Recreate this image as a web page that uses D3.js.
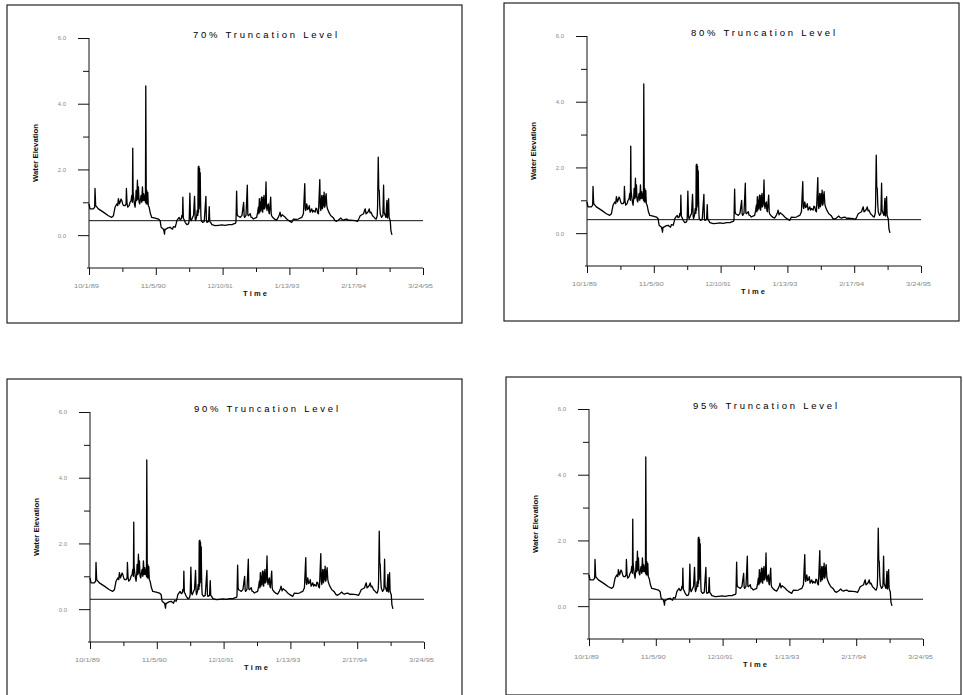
<!DOCTYPE html>
<meta charset="utf-8">
<style>
body {
  margin: 0;
  background-color: white;
}
svg {
  display: block;
}
text {
  font-family: "Liberation Sans", Arial, sans-serif;
}
.frame { fill: none; stroke: #222; stroke-width: 1.2; }
.title { font-size: 9.5px; fill: #000; text-anchor: middle; }
.xlabel, .ylabel { font-size: 7.5px; font-weight: bold; fill: #111; text-anchor: middle; }
.tick text { font-size: 6px; fill: #8a8a8a; }
.domain, .tick line { stroke: #111; }
.series { fill: none; stroke: #000; stroke-width: 1.3; stroke-linejoin: round; }
.trunc { stroke: #111; stroke-width: 1; }
</style>
<body>

<script src="https://d3js.org/d3.v7.min.js"></script>

<script>
// panel titles and the truncation level drawn in each one
var titles = ["70% Truncation Level", "80% Truncation Level",
              "90% Truncation Level", "95% Truncation Level"];
var truncLevels = [0.44, 0.41, 0.30, 0.21];

// x tick dates (every 400 days) and y ticks
var xTickDates = ["1989-10-01", "1990-11-05", "1991-12-10",
                  "1993-01-13", "1994-02-17", "1995-03-24"];
var yMajorTicks = [0, 2, 4, 6];
var yMinorTicks = [1, 3, 5];

// water elevation series: days after 10/1/89 and the value
var dayOffsets = [
  0, 6, 26, 34, 36, 40, 56, 86, 116, 136, 146, 156, 166, 172, 176, 182, 186, 192, 196, 202,
  206, 216, 222, 224, 228, 232, 240, 246, 252, 256, 260, 262, 264, 268, 272, 276, 280, 282, 286, 290,
  293, 296, 300, 304, 308, 312, 316, 320, 324, 328, 332, 336, 338, 340, 343, 346, 349, 352, 355, 360,
  368, 376, 396, 416, 426, 430, 432, 446, 450, 452, 455, 460, 472, 486, 494, 500, 506, 516, 522, 526,
  534, 540, 546, 552, 556, 560, 562, 565, 568, 576, 586, 596, 600, 604, 608, 612, 620, 626, 632, 636,
  638, 644, 648, 652, 654, 656, 658, 660, 662, 664, 666, 668, 670, 672, 680, 690, 700, 703, 706, 716,
  720, 723, 728, 736, 756, 776, 796, 816, 836, 856, 866, 876, 880, 884, 887, 890, 900, 906, 916, 926,
  929, 932, 940, 948, 951, 954, 960, 966, 970, 976, 984, 994, 1004, 1010, 1014, 1017, 1020, 1023, 1026, 1028,
  1031, 1034, 1037, 1040, 1043, 1046, 1048, 1051, 1054, 1057, 1060, 1063, 1066, 1070, 1074, 1077, 1080, 1088, 1091, 1094,
  1104, 1114, 1124, 1134, 1140, 1144, 1150, 1157, 1164, 1174, 1184, 1194, 1204, 1214, 1224, 1240, 1254, 1264, 1274, 1284,
  1292, 1295, 1298, 1304, 1309, 1314, 1319, 1324, 1334, 1339, 1344, 1354, 1359, 1364, 1369, 1374, 1382, 1385, 1388, 1391,
  1394, 1397, 1400, 1403, 1406, 1408, 1411, 1414, 1417, 1420, 1424, 1428, 1436, 1448, 1456, 1464, 1472, 1480, 1494, 1508,
  1516, 1524, 1534, 1544, 1554, 1564, 1580, 1594, 1608, 1616, 1624, 1634, 1644, 1650, 1654, 1659, 1664, 1672, 1678, 1683,
  1688, 1698, 1708, 1714, 1720, 1726, 1728, 1732, 1735, 1738, 1741, 1744, 1752, 1760, 1764, 1767, 1770, 1778, 1784, 1786,
  1788, 1794, 1797, 1800, 1804, 1808, 1814
];
var elevation = [
  0.95, 0.80, 0.80, 0.85, 1.42, 0.90, 0.80, 0.70, 0.59, 0.54, 0.59, 0.85, 0.95, 0.90, 1.11, 0.95, 1.00, 1.10, 1.06, 0.95,
  0.90, 0.90, 0.95, 1.42, 0.95, 0.85, 0.90, 1.00, 1.05, 1.21, 1.00, 2.65, 1.30, 1.11, 0.95, 0.85, 1.10, 1.36, 1.05, 1.67,
  1.10, 1.47, 1.00, 0.95, 1.10, 1.21, 1.00, 1.47, 1.05, 1.26, 1.06, 1.20, 1.00, 4.54, 0.95, 1.36, 0.95, 1.30, 0.90, 0.85,
  0.65, 0.54, 0.52, 0.49, 0.44, 0.30, 0.24, 0.18, 0.10, 0.03, 0.18, 0.18, 0.22, 0.24, 0.20, 0.18, 0.26, 0.24, 0.35, 0.44,
  0.50, 0.54, 0.47, 0.49, 0.60, 0.55, 1.16, 0.50, 0.49, 0.39, 0.32, 0.34, 0.45, 1.28, 0.50, 0.44, 0.54, 0.60, 1.18, 0.50,
  0.44, 0.55, 0.75, 0.60, 2.08, 0.70, 2.10, 0.80, 2.03, 0.90, 1.90, 1.06, 0.60, 0.44, 0.39, 0.42, 1.18, 0.45, 0.39, 0.42,
  0.87, 0.42, 0.39, 0.32, 0.29, 0.30, 0.31, 0.30, 0.32, 0.32, 0.34, 0.36, 0.39, 1.34, 0.65, 0.59, 0.56, 0.54, 0.60, 1.00,
  0.58, 0.54, 0.60, 1.52, 0.62, 0.59, 0.62, 0.65, 0.55, 0.54, 0.49, 0.52, 0.54, 0.70, 0.85, 0.65, 1.11, 0.70, 1.00, 0.75,
  1.10, 1.16, 0.72, 0.70, 1.15, 0.80, 1.21, 0.80, 0.85, 1.10, 1.62, 0.85, 0.75, 0.90, 0.95, 0.70, 0.65, 1.16, 0.65, 0.59,
  0.52, 0.48, 0.46, 0.55, 0.62, 0.70, 0.56, 0.62, 0.59, 0.55, 0.49, 0.45, 0.42, 0.39, 0.49, 0.48, 0.49, 0.52, 0.54, 0.65,
  1.57, 0.80, 0.75, 0.95, 0.78, 0.80, 0.90, 0.70, 0.80, 0.70, 0.75, 0.70, 0.82, 0.80, 0.68, 0.65, 1.69, 0.85, 0.75, 1.05,
  1.21, 0.80, 0.85, 1.20, 0.90, 1.31, 0.85, 0.90, 1.15, 1.26, 0.90, 0.80, 0.70, 0.59, 0.56, 0.52, 0.45, 0.42, 0.46, 0.52,
  0.47, 0.46, 0.48, 0.49, 0.45, 0.46, 0.45, 0.44, 0.42, 0.50, 0.59, 0.62, 0.65, 0.75, 0.80, 0.65, 0.67, 0.72, 0.80, 0.68,
  0.70, 0.59, 0.54, 0.50, 0.49, 0.60, 0.85, 2.37, 1.40, 1.36, 0.90, 0.65, 0.54, 0.60, 1.52, 0.70, 0.65, 0.54, 1.06, 0.55,
  0.52, 1.11, 0.55, 0.49, 0.44, 0.13, 0.01
];

// layout of the four framed panels (frame corner and plot corner)
var panels = [
  {fx: 7,   fy: 5,   px: 89,  py: 38},
  {fx: 504, fy: 3,   px: 587, py: 36},
  {fx: 7,   fy: 379, px: 90,  py: 412},
  {fx: 506, fy: 377, px: 589, py: 409}
];
var frameW = 455, frameH = 318;
var plotW = 334, plotH = 230;

var svg = d3.select("body").append("svg")
    .attr("width", 963)
    .attr("height", 695);

var parse = d3.timeParse("%Y-%m-%d");
var xTicks = xTickDates.map(parse);
var start = xTicks[0];
var xMinor = xTicks.slice(0, -1).map(function(t) { return d3.timeDay.offset(t, 200); });

var series = dayOffsets.map(function(d, i) {
  return {date: d3.timeDay.offset(start, d), value: elevation[i]};
});

var x = d3.scaleTime()
    .domain([xTicks[0], xTicks[xTicks.length - 1]])
    .range([0, plotW]);
var y = d3.scaleLinear()
    .domain([-1, 6])
    .range([plotH, 0]);

var line = d3.line()
    .x(function(d) { return x(d.date); })
    .y(function(d) { return y(d.value); });

var fmtDate = d3.timeFormat("%-m/%-d/%y");

panels.forEach(function(p, i) {
  svg.append("rect")
      .attr("class", "frame")
      .attr("x", p.fx)
      .attr("y", p.fy)
      .attr("width", frameW)
      .attr("height", frameH);

  var g = svg.append("g")
      .attr("transform", "translate(" + p.px + "," + p.py + ")");

  // y axis: major ticks with labels, minor ticks without
  g.append("g")
      .attr("class", "axis")
      .call(d3.axisLeft(y).tickValues(yMajorTicks).tickSize(11).tickPadding(12)
              .tickFormat(d3.format(".1f")))
      .call(function(a) { a.select(".domain").attr("d", "M0,0V" + plotH); });
  g.append("g")
      .attr("class", "axis")
      .call(d3.axisLeft(y).tickValues(yMinorTicks).tickSize(6).tickFormat(""))
      .call(function(a) { a.select(".domain").remove(); });

  // x axis
  var xa = g.append("g")
      .attr("class", "axis")
      .attr("transform", "translate(0," + plotH + ")")
      .call(d3.axisBottom(x).tickValues(xTicks).tickSize(7).tickPadding(9)
              .tickFormat(fmtDate))
      .call(function(a) { a.select(".domain").attr("d", "M-2,0H" + plotW); });
  xa.selectAll(".tick text")
      .attr("dx", -3)
      .attr("textLength", 25)
      .attr("lengthAdjust", "spacingAndGlyphs");
  g.append("g")
      .attr("class", "axis")
      .attr("transform", "translate(0," + plotH + ")")
      .call(d3.axisBottom(x).tickValues(xMinor).tickSize(4).tickFormat(""))
      .call(function(a) { a.select(".domain").remove(); });

  // truncation level
  g.append("line")
      .attr("class", "trunc")
      .attr("x1", 0)
      .attr("x2", plotW)
      .attr("y1", y(truncLevels[i]))
      .attr("y2", y(truncLevels[i]));

  // water elevation series
  g.append("path")
      .datum(series)
      .attr("class", "series")
      .attr("d", line);

  // titles
  g.append("text")
      .attr("class", "title")
      .attr("x", 176)
      .attr("y", 0)
      .attr("textLength", 144)
      .attr("lengthAdjust", "spacing")
      .text(titles[i]);

  g.append("text")
      .attr("class", "xlabel")
      .attr("x", 166)
      .attr("y", plotH + 28)
      .attr("textLength", 24)
      .attr("lengthAdjust", "spacing")
      .text("Time");

  g.append("text")
      .attr("class", "ylabel")
      .attr("transform", "translate(-51," + (plotH / 2) + ") rotate(-90)")
      .attr("textLength", 58)
      .attr("lengthAdjust", "spacingAndGlyphs")
      .text("Water Elevation");
});
</script>
</body>
